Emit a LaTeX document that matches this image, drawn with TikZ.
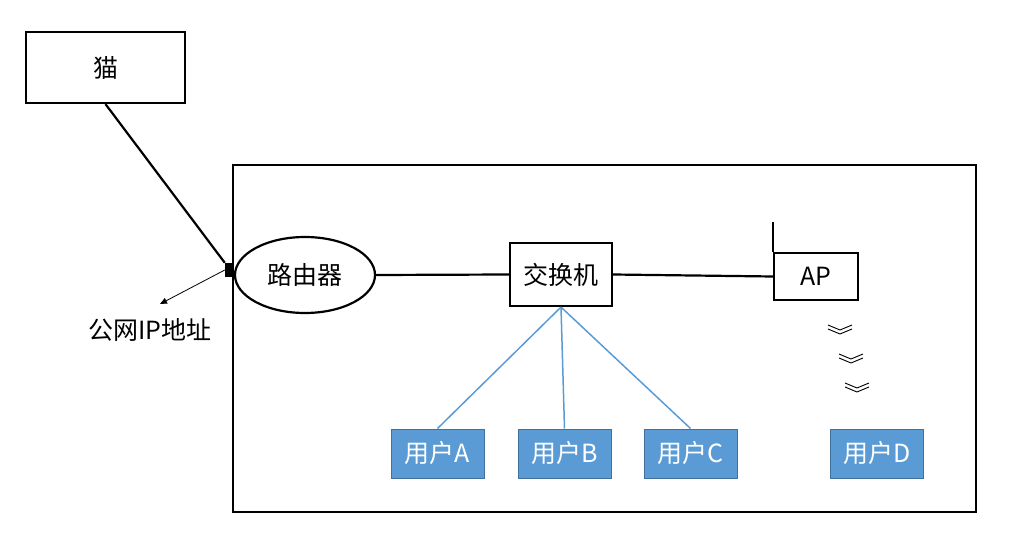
\documentclass[tikz,border=0pt]{standalone}
\usepackage{fontspec}
\setmainfont{Noto Sans CJK SC}
\usetikzlibrary{shapes.geometric,arrows.meta}
\definecolor{userfill}{HTML}{5B9BD5}
\definecolor{userdraw}{HTML}{41719C}
\begin{document}
\begin{tikzpicture}[
        x=1pt, y=-1pt,
        font=\fontsize{25}{30}\selectfont,
        box/.style={draw, line width=2.2pt, inner sep=0pt},
        user/.style={draw=userdraw, line width=1pt, fill=userfill, text=white,
            minimum width=93pt, minimum height=49pt, inner sep=0pt},
        wire/.style={line width=2.2pt},
        link/.style={userfill, line width=1.5pt}
    ]
        \useasboundingbox (0,0) rectangle (1010,540);

        % outer frame
        \draw[line width=1.6pt] (233,165) rectangle (976,512);

        % devices
        \node[box, minimum width=159pt, minimum height=71pt] (modem) at (105.5,67.5) {猫};
        \node[box, ellipse, minimum width=140pt, minimum height=76pt] (router) at (305,275) {路由器};
        \node[box, minimum width=102pt, minimum height=63pt] (switch) at (561,274.5) {交换机};
        \node[box, minimum width=84pt, minimum height=47pt] (ap) at (816,276.5) {AP};
        \node[fill=black, minimum width=8pt, minimum height=14pt, inner sep=0pt] (port) at (229,270) {};

        % users
        \node[user] (ua) at (437.5,453.5) {用户A};
        \node[user] (ub) at (564.5,453.5) {用户B};
        \node[user] (uc) at (690.5,453.5) {用户C};
        \node[user] (ud) at (877,453.5) {用户D};

        % public address label
        \node (ip) at (150,330) {公网IP地址};
        \coordinate (iptip) at (160,304);
        \draw[line width=0.8pt, -{Triangle[length=7pt,width=6pt]}] (port.west) -- (iptip);

        % wired links
        \draw[wire] (modem.south) -- (port.north west);
        \draw[wire] (router.east) -- (switch.west);
        \draw[wire] (switch.east) -- (ap.west);
        \draw[wire] (ap.north west) -- ++(0,-30) coordinate (antenna);

        \foreach \u in {ua,ub,uc}
            \draw[link] (switch.south) -- (\u.north);

        % wireless signal
        \foreach \x/\y in {840/329, 851/358, 857/387} {
            \draw[line width=0.9pt] (\x-12,\y-4) -- (\x,\y+1) -- (\x+12,\y-4);
            \draw[line width=0.9pt] (\x-12,\y) -- (\x,\y+5) -- (\x+12,\y);
        }
    \end{tikzpicture}
\end{document}
